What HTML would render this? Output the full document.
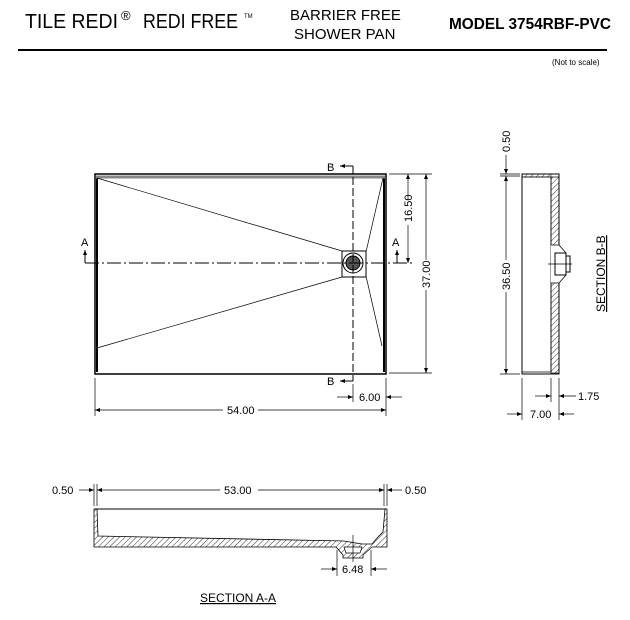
<!DOCTYPE html>
<html><head><meta charset="utf-8"><style>
html,body{margin:0;padding:0;background:#fff;}
svg{display:block;font-family:"Liberation Sans",Arial,sans-serif;}
</style></head><body>
<svg width="630" height="620" viewBox="0 0 630 620" xmlns="http://www.w3.org/2000/svg">
<defs>
<pattern id="h" width="4" height="4" patternUnits="userSpaceOnUse" patternTransform="rotate(45)">
<line x1="0" y1="0" x2="0" y2="4" stroke="#000" stroke-width="0.8"/>
</pattern>
<marker id="ar" viewBox="0 0 10 10" refX="10" refY="5" markerWidth="7" markerHeight="5" orient="auto-start-reverse" markerUnits="userSpaceOnUse"><path d="M0,1 L10,5 L0,9z" fill="#000"/></marker>
</defs>
<!-- header -->
<text x="25" y="28" font-size="20" textLength="93" lengthAdjust="spacingAndGlyphs">TILE REDI</text>
<text x="121" y="20" font-size="13">®</text>
<text x="143" y="28" font-size="20" textLength="95" lengthAdjust="spacingAndGlyphs">REDI FREE</text>
<text x="244" y="18" font-size="6">TM</text>
<text x="290" y="20" font-size="15">BARRIER FREE</text>
<text x="294" y="39" font-size="15">SHOWER PAN</text>
<text x="449" y="29" font-size="16" font-weight="bold" textLength="162" lengthAdjust="spacingAndGlyphs">MODEL 3754RBF-PVC</text>
<line x1="18" y1="50" x2="607" y2="50" stroke="#000" stroke-width="2"/>
<text x="552" y="65" font-size="8">(Not to scale)</text>

<g stroke="#000" fill="none" stroke-width="1">
<!-- plan view -->
<rect x="95" y="174" width="291" height="200" stroke-width="1.5"/>
<line x1="97" y1="176" x2="97" y2="372" stroke-width="2"/>
<line x1="384" y1="176" x2="384" y2="372" stroke-width="2"/>
<line x1="96" y1="177" x2="385" y2="177" stroke="#888" stroke-width="3"/>
<line x1="97" y1="178" x2="342" y2="251" stroke-width="0.7"/>
<line x1="97" y1="348" x2="342" y2="277" stroke-width="0.7"/>
<line x1="383" y1="178" x2="366" y2="252" stroke-width="0.7"/>
<line x1="366" y1="276" x2="382" y2="346" stroke-width="0.7"/>
<rect x="342" y="251" width="24" height="26"/>
<circle cx="353" cy="263" r="10"/>
<circle cx="353" cy="263" r="7" fill="#555"/>
<line x1="85" y1="263" x2="412" y2="263" stroke-dasharray="14,3,2,3"/>
<line x1="353" y1="166" x2="353" y2="381" stroke-dasharray="8,3"/>
<line x1="85" y1="263" x2="85" y2="250" marker-end="url(#ar)"/>
<line x1="397" y1="263" x2="397" y2="250" marker-end="url(#ar)"/>
<line x1="353" y1="166" x2="340" y2="166" marker-end="url(#ar)"/>
<line x1="353" y1="381" x2="340" y2="381" marker-end="url(#ar)"/>
<!-- dims plan -->
<line x1="389" y1="174" x2="432" y2="174" stroke-width="0.7"/>
<line x1="389" y1="373" x2="432" y2="373" stroke-width="0.7"/>
<line x1="408" y1="174" x2="408" y2="200" marker-start="url(#ar)" stroke-width="0.7"/>
<line x1="408" y1="225" x2="408" y2="263" marker-end="url(#ar)" stroke-width="0.7"/>
<line x1="426" y1="174" x2="426" y2="260" marker-start="url(#ar)" stroke-width="0.7"/>
<line x1="426" y1="290" x2="426" y2="373" marker-end="url(#ar)" stroke-width="0.7"/>
<line x1="95" y1="378" x2="95" y2="416" stroke-width="0.7"/>
<line x1="386" y1="378" x2="386" y2="416" stroke-width="0.7"/>
<line x1="353" y1="384" x2="353" y2="402" stroke-width="0.7"/>
<line x1="95" y1="410" x2="223" y2="410" marker-start="url(#ar)" stroke-width="0.7"/>
<line x1="258" y1="410" x2="386" y2="410" marker-end="url(#ar)" stroke-width="0.7"/>
<line x1="337" y1="397" x2="353" y2="397" marker-end="url(#ar)" stroke-width="0.7"/>
<line x1="402" y1="397" x2="386" y2="397" marker-end="url(#ar)" stroke-width="0.7"/>

<!-- section B-B -->
<path d="M522,174 L559,174 L559,374 L522,374 Z" stroke-width="1"/>
<path d="M522,177 L551,177 L551,245 L557,253 L557,275 L551,282 L551,372 L522,372" stroke-width="0.7"/>
<rect x="551" y="177" width="8" height="196" fill="url(#h)" stroke-width="0.7"/>
<rect x="522" y="174" width="29" height="3" fill="url(#h)" stroke-width="0.5"/>
<path d="M551,245 L559,245 L566,253 L566,275 L559,283 L551,283" fill="#fff" stroke-width="0.8"/>
<rect x="555" y="253" width="11" height="22" fill="#fff"/>
<rect x="566" y="256" width="4" height="16" fill="#fff"/>
<line x1="548" y1="264" x2="572" y2="264" stroke-width="0.7"/>
<line x1="500" y1="174" x2="520" y2="174" stroke-width="0.7"/>
<line x1="500" y1="176" x2="520" y2="176" stroke-width="0.7"/>
<line x1="500" y1="374" x2="520" y2="374" stroke-width="0.7"/>
<line x1="506" y1="155" x2="506" y2="174" marker-end="url(#ar)" stroke-width="0.7"/>
<line x1="506" y1="176" x2="506" y2="260" marker-start="url(#ar)" stroke-width="0.7"/>
<line x1="506" y1="292" x2="506" y2="374" marker-end="url(#ar)" stroke-width="0.7"/>
<line x1="522" y1="378" x2="522" y2="420" stroke-width="0.7"/>
<line x1="551" y1="378" x2="551" y2="402" stroke-width="0.7"/>
<line x1="559" y1="378" x2="559" y2="420" stroke-width="0.7"/>
<line x1="535" y1="396" x2="551" y2="396" marker-end="url(#ar)" stroke-width="0.7"/>
<line x1="576" y1="396" x2="559" y2="396" marker-end="url(#ar)" stroke-width="0.7"/>
<line x1="507" y1="414" x2="522" y2="414" marker-end="url(#ar)" stroke-width="0.7"/>
<line x1="574" y1="414" x2="559" y2="414" marker-end="url(#ar)" stroke-width="0.7"/>

<!-- section A-A -->
<line x1="94" y1="509" x2="387" y2="509" stroke-width="1"/>
<path d="M94,509 L94,547 L336,547 L343,555 L343,558 L363,558 L363,555 L372,547 L387,547 L387,509 L385,509 L383,532 L378,537 L372,544 L362,544 L344,541 L98,536 L97,509 Z" fill="url(#h)" stroke-width="0.8"/>
<path d="M344,547 L346,553 L360,553 L362,547 Z" fill="#fff" stroke-width="0.7"/>
<line x1="353" y1="535" x2="353" y2="562" stroke-width="0.7"/>
<line x1="94" y1="484" x2="94" y2="506" stroke-width="0.7"/>
<line x1="97" y1="484" x2="97" y2="506" stroke-width="0.7"/>
<line x1="384" y1="484" x2="384" y2="506" stroke-width="0.7"/>
<line x1="387" y1="484" x2="387" y2="506" stroke-width="0.7"/>
<line x1="79" y1="490" x2="94" y2="490" marker-end="url(#ar)" stroke-width="0.7"/>
<line x1="97" y1="490" x2="220" y2="490" marker-start="url(#ar)" stroke-width="0.7"/>
<line x1="258" y1="490" x2="384" y2="490" marker-end="url(#ar)" stroke-width="0.7"/>
<line x1="402" y1="490" x2="387" y2="490" marker-end="url(#ar)" stroke-width="0.7"/>
<line x1="337" y1="550" x2="337" y2="576" stroke-width="0.7"/>
<line x1="371" y1="550" x2="371" y2="576" stroke-width="0.7"/>
<line x1="321" y1="569" x2="337" y2="569" marker-end="url(#ar)" stroke-width="0.7"/>
<line x1="387" y1="569" x2="371" y2="569" marker-end="url(#ar)" stroke-width="0.7"/>
</g>

<g font-size="11" fill="#000">
<text x="327" y="171">B</text>
<text x="327" y="385">B</text>
<text x="81" y="246">A</text>
<text x="392" y="246">A</text>
<text x="412" y="222" transform="rotate(-90 412 222)">16.50</text>
<text x="430" y="288" transform="rotate(-90 430 288)">37.00</text>
<text x="227" y="414">54.00</text>
<text x="359" y="401">6.00</text>
<text x="510" y="152" transform="rotate(-90 510 152)">0.50</text>
<text x="510" y="290" transform="rotate(-90 510 290)">36.50</text>
<text x="578" y="400">1.75</text>
<text x="530" y="418">7.00</text>
<text x="605" y="312" transform="rotate(-90 605 312)" font-size="12" text-decoration="underline">SECTION B-B</text>
<text x="52" y="494">0.50</text>
<text x="224" y="494">53.00</text>
<text x="405" y="494">0.50</text>
<text x="342" y="573">6.48</text>
<text x="200" y="602" font-size="12" text-decoration="underline">SECTION A-A</text>
</g>
</svg>
</body></html>
